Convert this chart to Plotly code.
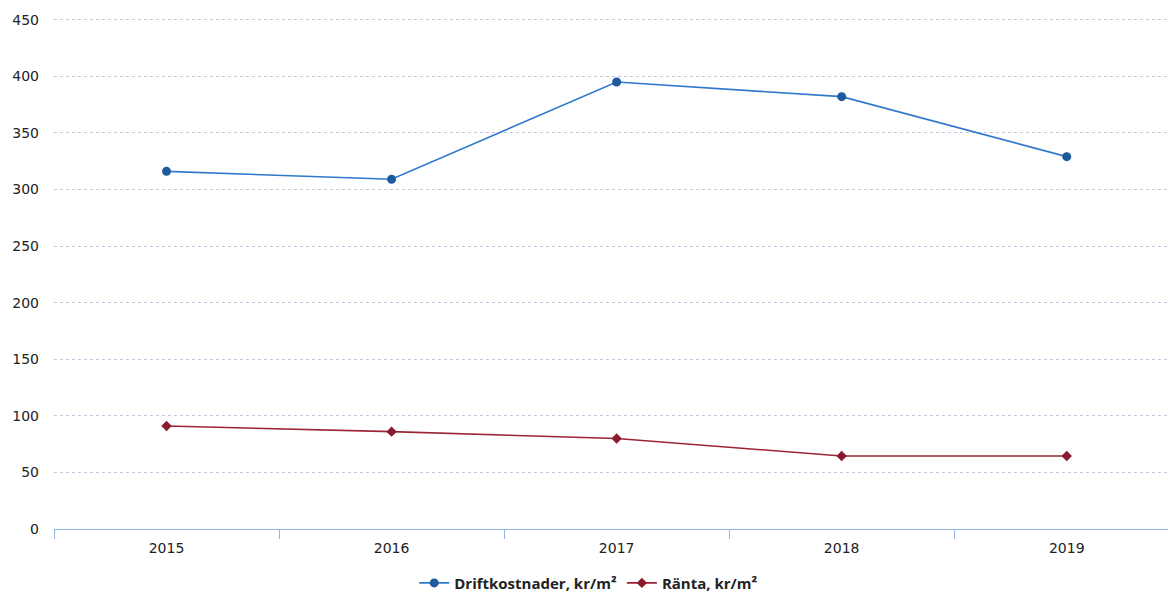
import plotly.graph_objects as go

years = ["2015", "2016", "2017", "2018", "2019"]
drift = [316, 309, 395, 382, 329]
ranta = [91, 86, 80, 64.5, 64.5]
y_ticks = [0, 50, 100, 150, 200, 250, 300, 350, 400, 450]

fig = go.Figure()
fig.add_trace(go.Scatter(
    x=years, y=drift, mode="lines+markers", name="Driftkostnader, kr/m²",
    line=dict(color="#2f78cc", width=1.6),
    marker=dict(symbol="circle", size=9, color="#1d5a9e"),
))
fig.add_trace(go.Scatter(
    x=years, y=ranta, mode="lines+markers", name="Ränta, kr/m²",
    line=dict(color="#9b2335", width=1.6),
    marker=dict(symbol="diamond", size=8, color="#8a1a2c"),
))

fig.update_layout(
    width=1168, height=596,
    margin=dict(l=54, r=0, t=18, b=67, autoexpand=False),
    paper_bgcolor="white", plot_bgcolor="white",
    font=dict(family="DejaVu Sans", size=14, color="#222"),
    showlegend=True,
    legend=dict(orientation="h", x=0.48, xanchor="center",
                y=-0.106, yanchor="middle",
                font=dict(family="Open Sans", size=15, color="#222", weight="bold")),
    xaxis=dict(
        type="category", range=[-0.5, 4.45],
        showgrid=False, showline=True, linecolor="#8fb6e0", linewidth=1,
        ticks="outside", tickson="boundaries", ticklen=9, tickcolor="#8fb6e0",
        tickfont=dict(size=14), ticklabelstandoff=6, zeroline=False,
    ),
    yaxis=dict(
        range=[0, 451.5], tickvals=y_ticks, showgrid=True,
        gridcolor="#c4c8dc", griddash="dot", gridwidth=1,
        zeroline=False, showline=False, ticks="", ticklabelstandoff=14,
        tickfont=dict(size=14),
    ),
)

fig.write_html("out.html")
